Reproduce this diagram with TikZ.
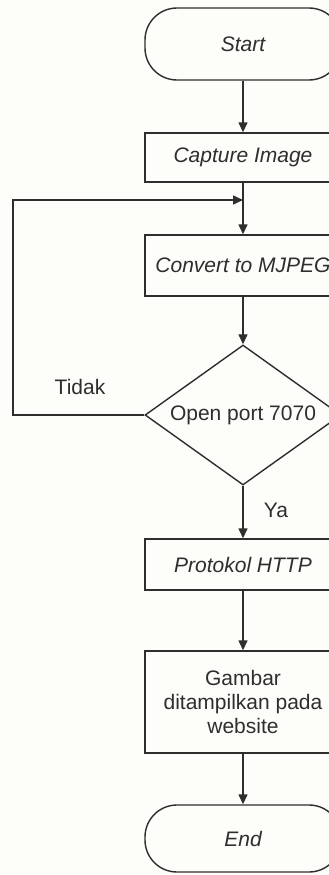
\documentclass[tikz,border=0pt]{standalone}
\usepackage{fontspec}
\setmainfont{Liberation Sans}
\usetikzlibrary{arrows.meta,shapes.geometric}
\definecolor{ln}{HTML}{2E2E2E}
\definecolor{bg}{HTML}{FDFDF9}
\begin{document}
\begin{tikzpicture}[x=1pt,y=-1pt,
  line width=1.4pt,
  every node/.style={font=\fontsize{21}{24}\selectfont, text=ln},
  term/.style={draw=ln, rectangle, rounded corners=32pt, minimum width=196pt, inner sep=0pt},
  proc/.style={draw=ln, rectangle, minimum width=196pt, inner sep=0pt, align=center},
  dec/.style={draw=ln, diamond, aspect=1.4, minimum width=196pt, minimum height=140pt, inner sep=0pt},
  arr/.style={draw=ln, -{Triangle[length=10pt,width=9pt]}},
  lbl/.style={inner sep=0pt}]
\fill[bg] (0,0) rectangle (329,875);
\useasboundingbox (0,0) rectangle (329,875);
\clip (0,0) rectangle (329,875);
\node[term, minimum height=72pt] (start) at (243,44) {\itshape Start};
\node[proc, minimum height=49pt] (cap) at (243,157.5) {\itshape Capture Image};
\node[proc, minimum height=61pt] (conv) at (243,265.5) {\itshape Convert to MJPEG};
\node[dec] (open) at (243,415) {Open port 7070};
\node[proc, minimum height=51pt] (http) at (243,564.5) {\itshape Protokol HTTP};
\node[proc, minimum height=102pt] (gmb) at (243,702) {Gambar\\ditampilkan pada\\website};
\node[term, minimum height=67pt] (end) at (243,838.5) {\itshape End};
\coordinate (j) at (243,200);
\coordinate (lc) at (13,200);
\draw[arr] (start) -- (cap);
\draw[arr] (cap) -- (conv);
\draw[arr] (conv) -- (open);
\draw[arr] (open.west) -| (lc) -- (j);
\draw[arr] (open) -- (http);
\draw[arr] (http) -- (gmb);
\draw[arr] (gmb) -- (end);
\node[lbl] (tidak) at (80,387) {Tidak};
\node[lbl] (ya) at (276,510) {Ya};
\end{tikzpicture}
\end{document}
